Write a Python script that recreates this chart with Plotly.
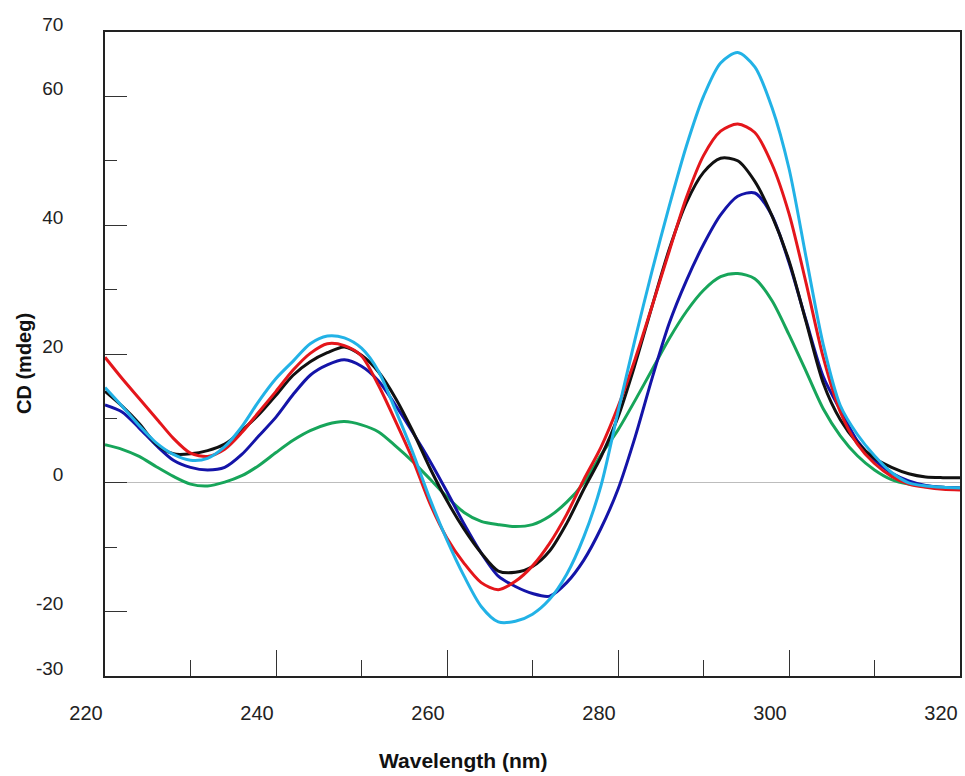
import plotly.graph_objects as go

wavelength = list(range(220, 322, 2))

light_blue = [14.8, 11.9, 8.9, 6.2, 4.4, 3.5, 3.8, 5.6, 8.7, 12.7,
              16.2, 18.9, 21.6, 22.8, 22.5, 20.9, 17.3, 11.2, 4.7, -2.5,
              -8.9, -14.5, -19.2, -21.6, -21.5, -20.4, -18.1, -14.2, -8.4, -0.5,
              11.0, 22.3, 33.0, 43.0, 52.3, 60.0, 65.2, 66.8, 64.6, 58.3,
              48.8, 35.0, 21.5, 12.0, 7.5, 4.2, 1.6, 0.0, -0.5, -0.7, -0.8]

red = [19.5, 16.2, 13.1, 10.0, 6.9, 4.6, 4.1, 5.2, 7.8, 11.0,
       14.2, 17.5, 20.1, 21.6, 21.3, 19.7, 15.1, 9.5, 3.6, -3.2,
       -8.6, -12.5, -15.5, -16.6, -15.3, -12.9, -9.4, -4.9, 0.5, 5.5,
       11.8, 19.2, 27.5, 36.0, 44.3, 50.8, 54.6, 55.7, 54.4, 49.5,
       41.8, 31.0, 19.5, 11.0, 6.0, 3.0, 1.0, -0.2, -0.7, -1.0, -1.1]

black = [14.2, 11.9, 9.2, 6.0, 4.5, 4.5, 5.0, 6.0, 8.1, 10.6,
         13.6, 16.7, 18.8, 20.2, 21.1, 19.8, 17.2, 13.1, 8.0, 2.3,
         -2.8, -7.2, -10.9, -13.7, -13.9, -13.0, -10.6, -6.3, -1.0, 4.0,
         10.2, 18.4, 27.5, 36.3, 43.5, 48.2, 50.4, 50.0, 46.8, 41.5,
         34.5, 25.0, 15.5, 9.8, 6.2, 3.8, 2.4, 1.4, 0.9, 0.8, 0.8]

navy = [12.1, 11.0, 8.5, 5.8, 3.5, 2.4, 2.0, 2.4, 4.4, 7.3,
        10.2, 13.7, 16.7, 18.3, 19.1, 18.1, 15.8, 12.0, 7.8, 3.4,
        -1.4, -6.4, -10.9, -14.5, -16.1, -17.2, -17.6, -15.5, -12.0, -7.1,
        -1.0, 7.1, 16.3, 24.8, 31.4, 37.0, 41.6, 44.5, 45.0, 41.5,
        34.2, 25.2, 16.5, 11.3, 6.5, 3.5, 1.5, 0.3, -0.4, -0.7, -0.8]

green = [5.9, 5.2, 4.1, 2.5, 1.0, -0.2, -0.5, 0.1, 1.1, 2.7,
         4.7, 6.6, 8.1, 9.1, 9.5, 9.0, 7.9, 5.7, 3.3, 0.6,
         -2.2, -4.6, -6.0, -6.5, -6.8, -6.5, -5.2, -3.0, 0.0, 4.3,
         8.2, 12.8, 17.6, 22.4, 26.6, 29.9, 32.0, 32.5, 31.7, 28.3,
         23.0, 17.3, 11.5, 7.3, 4.2, 2.0, 0.5, -0.2, -0.5, -0.7, -0.8]

series = [
    ("green", green, "#17a55a"),
    ("navy", navy, "#1414a8"),
    ("black", black, "#111111"),
    ("red", red, "#e4161b"),
    ("light blue", light_blue, "#22b2e6"),
]

x_ticks = [220, 240, 260, 280, 300, 320]
y_ticks = [-30, -20, 0, 20, 40, 60, 70]

fig = go.Figure()
for name, vals, color in series:
    fig.add_trace(go.Scatter(x=wavelength, y=vals, mode="lines", name=name,
                             line=dict(color=color, width=3, shape="spline", smoothing=0.8)))

font_family = "Arial, Liberation Sans, sans-serif"

fig.update_layout(
    width=965, height=776,
    margin=dict(l=105, r=3, t=32, b=100),
    paper_bgcolor="white", plot_bgcolor="white",
    showlegend=False,
    font=dict(family=font_family, size=19, color="#222"),
)

fig.update_xaxes(
    range=[220, 320], tickvals=x_ticks, ticktext=[str(v) for v in x_ticks],
    ticks="inside", ticklen=26, tickwidth=1, tickcolor="#333",
    minor=dict(tickvals=[230, 250, 270, 290, 310], ticks="inside", ticklen=16,
               tickwidth=1, tickcolor="#333"),
    showline=True, linecolor="#222", linewidth=1.5, mirror=True,
    showgrid=False, zeroline=False,
    tickfont=dict(size=20, color="#222"),
    ticklabelshift=-19, ticklabelstandoff=18,
)
fig.update_yaxes(
    range=[-30, 70], tickvals=y_ticks, ticktext=[str(v) for v in y_ticks],
    ticks="inside", ticklen=22, tickwidth=1, tickcolor="#333",
    minor=dict(tickvals=[-10, 10, 30, 50], ticks="inside", ticklen=12,
               tickwidth=1, tickcolor="#333"),
    showline=True, linecolor="#222", linewidth=1.5, mirror=True,
    showgrid=False, zeroline=True, zerolinecolor="#bdbdbd", zerolinewidth=1,
    tickfont=dict(size=19, color="#222"),
    ticklabelshift=-8, ticklabelstandoff=36,
)

fig.add_annotation(text="<b>Wavelength (nm)</b>", xref="paper", yref="paper",
                   x=0.419, y=0, yanchor="middle", xanchor="center", yshift=-84,
                   showarrow=False, font=dict(size=21, color="#111", family=font_family))
fig.add_annotation(text="<b>CD (mdeg)</b>", xref="paper", yref="paper",
                   x=0, y=0.4845, xanchor="center", yanchor="middle", xshift=-81,
                   textangle=-90, showarrow=False,
                   font=dict(size=20, color="#111", family=font_family))

fig.write_html("out.html")
